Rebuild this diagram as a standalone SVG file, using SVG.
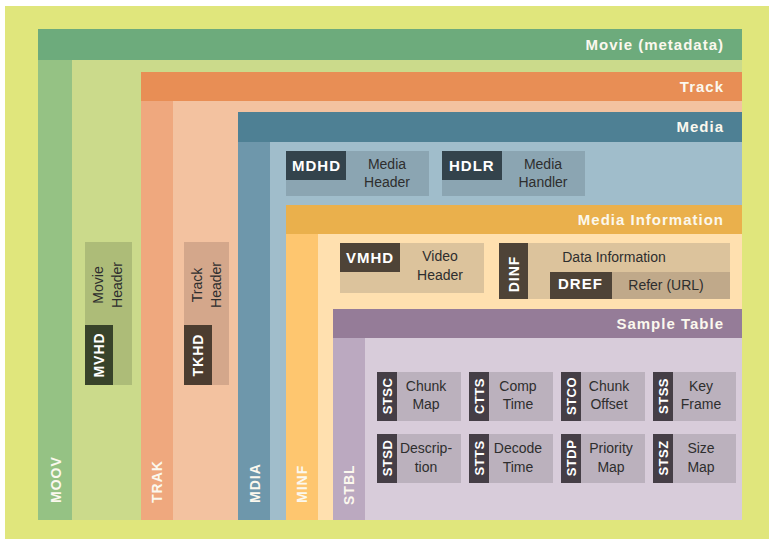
<svg xmlns="http://www.w3.org/2000/svg" width="769" height="539" viewBox="0 0 769 539">
<style>
.hd{font-family:"Liberation Sans",Arial,sans-serif;font-weight:bold;font-size:15px;letter-spacing:1px;fill:#FBF8EE;text-anchor:end}
.bar{font-family:"Liberation Sans",Arial,sans-serif;font-weight:bold;font-size:14px;letter-spacing:1px;fill:#FBF8EE}
.tag{font-family:"Liberation Sans",Arial,sans-serif;font-weight:bold;font-size:15px;letter-spacing:1px;fill:#FFFFFF}
.vtag{font-family:"Liberation Sans",Arial,sans-serif;font-weight:bold;font-size:14px;letter-spacing:1px;fill:#FFFFFF;text-anchor:middle}
.stag{font-family:"Liberation Sans",Arial,sans-serif;font-weight:bold;font-size:13px;letter-spacing:0.5px;fill:#FFFFFF;text-anchor:middle}
.lbl{font-family:"Liberation Sans",Arial,sans-serif;font-size:14px;fill:#2E2E2E;text-anchor:middle}
.glbl{font-family:"Liberation Sans",Arial,sans-serif;font-size:14px;fill:#2E2E2E;text-anchor:middle}
.gl{fill:#BBB1BD}.gd{fill:#453E46}
</style>
<rect x="5" y="6" width="764" height="533" fill="#E0E67C"/>

<g id="moov">
<rect x="38" y="29" width="704" height="31" fill="#6DAB7C"/>
<rect x="38" y="60" width="34" height="460" fill="#95C284"/>
<rect x="72" y="60" width="670" height="460" fill="#CBDA8B"/>
<text class="hd" x="724" y="50">Movie (metadata)</text>
<text class="bar" transform="translate(61,503) rotate(-90)">MOOV</text>
</g>

<g id="mvhd">
<rect x="85" y="242" width="47" height="143" fill="#ADBC78"/>
<rect x="85" y="325" width="28" height="60" fill="#38432A"/>
<text class="vtag" transform="translate(104,355) rotate(-90)">MVHD</text>
<text class="lbl" transform="translate(103,285) rotate(-90)">Movie</text>
<text class="lbl" transform="translate(122,285) rotate(-90)">Header</text>
</g>

<g id="trak">
<rect x="141" y="72" width="601" height="29" fill="#E88E55"/>
<rect x="141" y="101" width="32" height="419" fill="#EFA87E"/>
<rect x="173" y="101" width="569" height="419" fill="#F3C2A0"/>
<text class="hd" x="724" y="92">Track</text>
<text class="bar" transform="translate(162,503) rotate(-90)">TRAK</text>
</g>

<g id="tkhd">
<rect x="184" y="242" width="45" height="143" fill="#D4A78B"/>
<rect x="184" y="325" width="28" height="60" fill="#4C3D30"/>
<text class="vtag" transform="translate(203,355) rotate(-90)">TKHD</text>
<text class="lbl" transform="translate(202,285) rotate(-90)">Track</text>
<text class="lbl" transform="translate(221,285) rotate(-90)">Header</text>
</g>

<g id="mdia">
<rect x="238" y="112" width="504" height="30" fill="#4E8094"/>
<rect x="238" y="142" width="32" height="378" fill="#6E97AB"/>
<rect x="270" y="142" width="472" height="378" fill="#A0BDCB"/>
<text class="hd" x="724" y="132">Media</text>
<text class="bar" transform="translate(260,503) rotate(-90)">MDIA</text>
</g>

<g id="mdhd">
<rect x="286" y="151" width="143" height="45" fill="#8BA5B2"/>
<rect x="286" y="151" width="60" height="29" fill="#33434C"/>
<text class="tag" x="292" y="171">MDHD</text>
<text class="lbl" x="387" y="169">Media</text>
<text class="lbl" x="387" y="187">Header</text>
</g>

<g id="hdlr">
<rect x="442" y="151" width="143" height="45" fill="#8BA5B2"/>
<rect x="442" y="151" width="60" height="29" fill="#33434C"/>
<text class="tag" x="449" y="171">HDLR</text>
<text class="lbl" x="543" y="169">Media</text>
<text class="lbl" x="543" y="187">Handler</text>
</g>

<g id="minf">
<rect x="286" y="205" width="456" height="29" fill="#EAB04C"/>
<rect x="286" y="234" width="32" height="286" fill="#FEC66F"/>
<rect x="318" y="234" width="424" height="286" fill="#FFE0AF"/>
<text class="hd" x="724" y="225">Media Information</text>
<text class="bar" transform="translate(307,503) rotate(-90)">MINF</text>
</g>

<g id="vmhd">
<rect x="340" y="243" width="144" height="50" fill="#DCC39C"/>
<rect x="340" y="243" width="60" height="29" fill="#4E4337"/>
<text class="tag" x="346" y="263">VMHD</text>
<text class="lbl" x="440" y="261">Video</text>
<text class="lbl" x="440" y="280">Header</text>
</g>

<g id="dinf">
<rect x="499" y="243" width="231" height="56" fill="#DCC39C"/>
<rect x="499" y="243" width="29" height="56" fill="#4E4337"/>
<text class="vtag" transform="translate(519,274) rotate(-90)">DINF</text>
<text class="lbl" x="614" y="262">Data Information</text>
</g>

<g id="dref">
<rect x="612" y="272" width="118" height="27" fill="#C0A98A"/>
<rect x="550" y="272" width="62" height="27" fill="#4E4337"/>
<text class="tag" x="558" y="289">DREF</text>
<text class="lbl" x="666" y="290">Refer (URL)</text>
</g>

<g id="stbl">
<rect x="333" y="309" width="409" height="29" fill="#957C98"/>
<rect x="333" y="338" width="32" height="182" fill="#BBA9C0"/>
<rect x="365" y="338" width="377" height="182" fill="#D8CCDA"/>
<text class="hd" x="724" y="329">Sample Table</text>
<text class="bar" transform="translate(354,505) rotate(-90)">STBL</text>
</g>

<g id="stsc">
<rect class="gl" x="377" y="372" width="84" height="49"/><rect class="gd" x="377" y="372" width="20" height="49"/>
<text class="stag" transform="translate(392,396) rotate(-90)">STSC</text>
<text class="glbl" x="426" y="391">Chunk</text><text class="glbl" x="426" y="409">Map</text>
</g>
<g id="ctts">
<rect class="gl" x="469" y="372" width="84" height="49"/><rect class="gd" x="469" y="372" width="20" height="49"/>
<text class="stag" transform="translate(484,396) rotate(-90)">CTTS</text>
<text class="glbl" x="518" y="391">Comp</text><text class="glbl" x="518" y="409">Time</text>
</g>
<g id="stco">
<rect class="gl" x="561" y="372" width="84" height="49"/><rect class="gd" x="561" y="372" width="20" height="49"/>
<text class="stag" transform="translate(576,396) rotate(-90)">STCO</text>
<text class="glbl" x="609" y="391">Chunk</text><text class="glbl" x="609" y="409">Offset</text>
</g>
<g id="stss">
<rect class="gl" x="653" y="372" width="83" height="49"/><rect class="gd" x="653" y="372" width="20" height="49"/>
<text class="stag" transform="translate(668,396) rotate(-90)">STSS</text>
<text class="glbl" x="701" y="391">Key</text><text class="glbl" x="701" y="409">Frame</text>
</g>
<g id="stsd">
<rect class="gl" x="377" y="434" width="84" height="49"/><rect class="gd" x="377" y="434" width="20" height="49"/>
<text class="stag" transform="translate(392,458) rotate(-90)">STSD</text>
<text class="glbl" x="426" y="453">Descrip-</text><text class="glbl" x="426" y="472">tion</text>
</g>
<g id="stts">
<rect class="gl" x="469" y="434" width="84" height="49"/><rect class="gd" x="469" y="434" width="20" height="49"/>
<text class="stag" transform="translate(484,458) rotate(-90)">STTS</text>
<text class="glbl" x="518" y="453">Decode</text><text class="glbl" x="518" y="472">Time</text>
</g>
<g id="stdp">
<rect class="gl" x="561" y="434" width="84" height="49"/><rect class="gd" x="561" y="434" width="20" height="49"/>
<text class="stag" transform="translate(576,458) rotate(-90)">STDP</text>
<text class="glbl" x="611" y="453">Priority</text><text class="glbl" x="611" y="472">Map</text>
</g>
<g id="stsz">
<rect class="gl" x="653" y="434" width="83" height="49"/><rect class="gd" x="653" y="434" width="20" height="49"/>
<text class="stag" transform="translate(668,458) rotate(-90)">STSZ</text>
<text class="glbl" x="701" y="453">Size</text><text class="glbl" x="701" y="472">Map</text>
</g>
<g id="connectors"/>
</svg>
